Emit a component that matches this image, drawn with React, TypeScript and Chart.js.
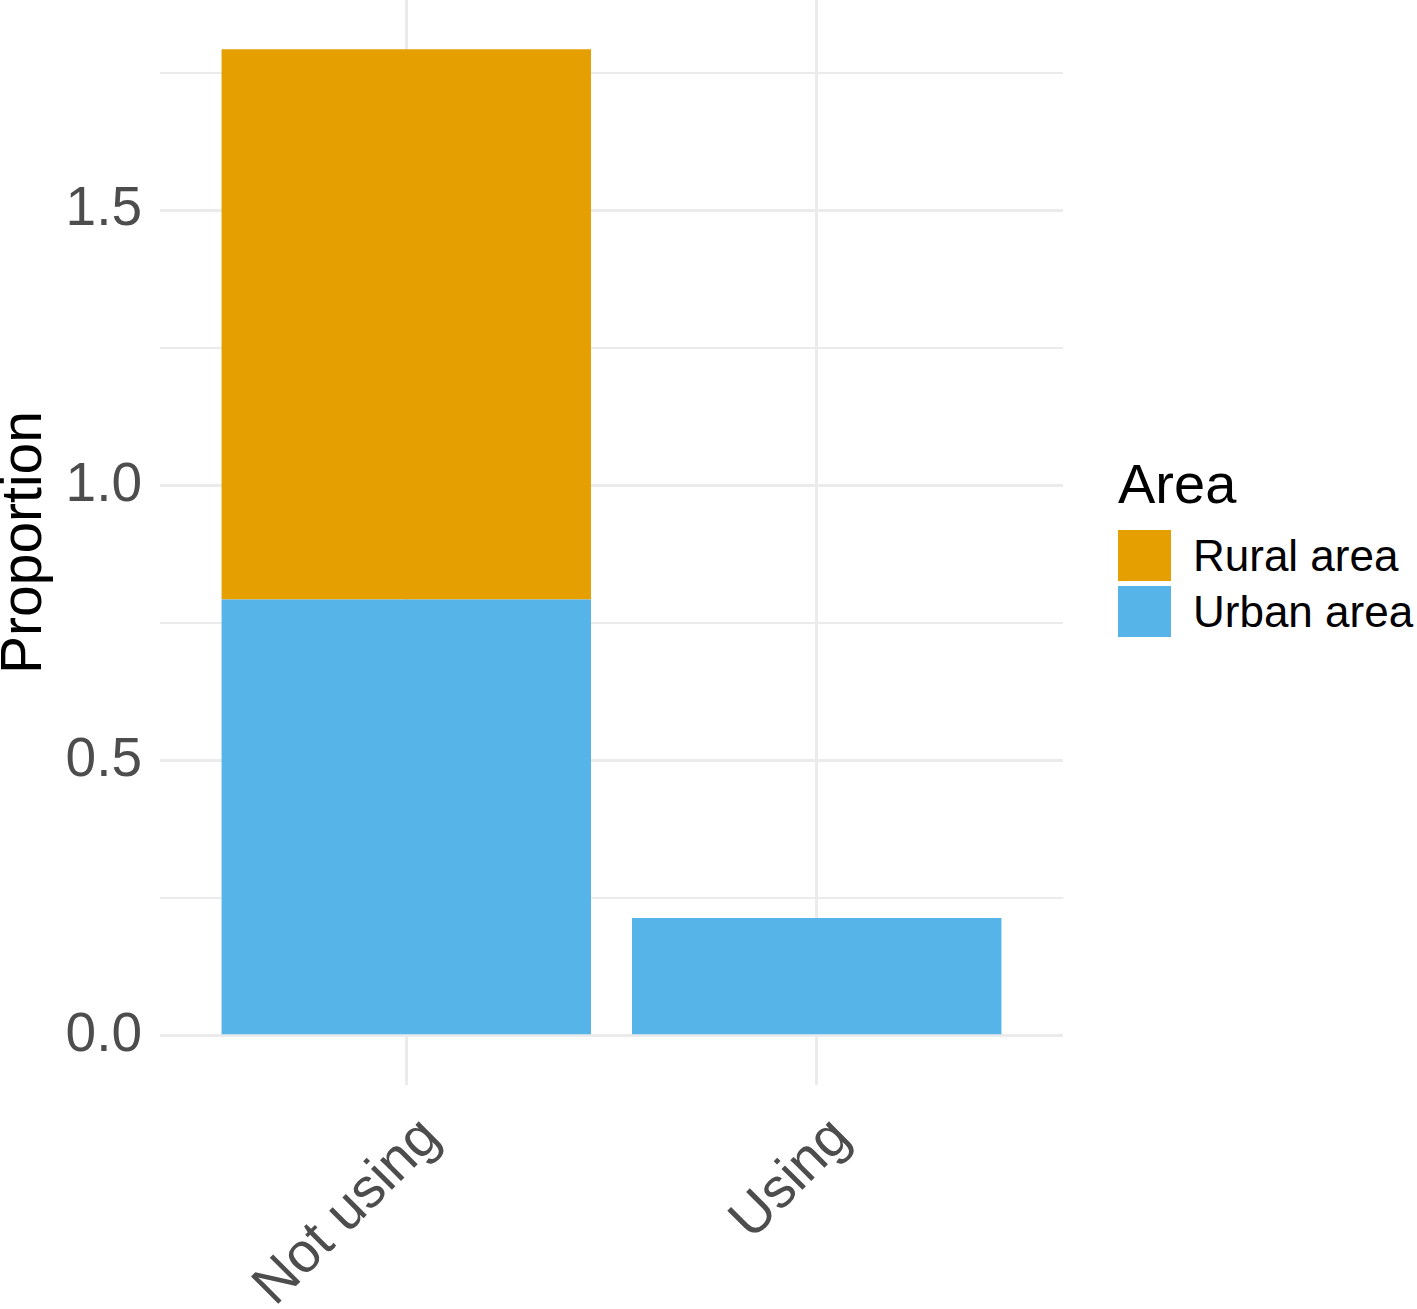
import React, { useEffect, useRef } from "react";
import { Chart, registerables } from "chart.js";

Chart.register(...registerables);

const categories = ["Not using", "Using"];
const seriesNames = ["Urban area", "Rural area"];
const urbanValues = [0.7925, 0.214];
const ruralValues = [1.0, 0];
const seriesColors = ["#56B4E9", "#E69F00"];
const yTickValues = [0, 0.25, 0.5, 0.75, 1, 1.25, 1.5, 1.75];
const legendTitle = "Area";
const yTitle = "Proportion";

const FONT = "'Liberation Sans', Arial, Helvetica, sans-serif";

const isMajor = (v: number) => Math.abs(v * 2 - Math.round(v * 2)) < 1e-6;

export default function App() {
  const canvasRef = useRef<HTMLCanvasElement | null>(null);

  useEffect(() => {
    const canvas = canvasRef.current;
    if (!canvas) return;
    const totals = categories.map((_, i) => urbanValues[i] + ruralValues[i]);
    const maxTotal = Math.max(...totals);
    const yMin = -0.05 * maxTotal;
    const yMax = maxTotal * 1.05;

    const seriesData = [urbanValues, ruralValues];
    const chart = new Chart(canvas, {
      type: "bar",
      data: {
        datasets: seriesNames.map((name, si) => ({
          label: name,
          data: categories.map((_, i) => ({ x: i + 1, y: seriesData[si][i] })),
          backgroundColor: seriesColors[si],
          borderWidth: 0,
          categoryPercentage: 1,
          barPercentage: 0.9,
        })),
      },
      options: {
        responsive: false,
        animation: false,
        layout: { padding: 0 },
        plugins: {
          legend: { display: false },
          tooltip: { enabled: false },
          title: { display: false },
        },
        scales: {
          x: {
            type: "linear",
            stacked: true,
            offset: false,
            min: 0.4,
            max: categories.length + 0.6,
            afterBuildTicks: (s: any) => {
              s.ticks = categories.map((_, i) => ({ value: i + 1 }));
            },
            afterFit: (s: any) => {
              s.height = 224;
              s.paddingLeft = 0;
              s.paddingRight = 0;
            },
            ticks: {
              autoSkip: false,
              minRotation: 45,
              maxRotation: 45,
              padding: 20,
              labelOffset: 25,
              color: "#4D4D4D",
              font: { size: 56, family: FONT },
              callback: (v: any) => categories[Math.round(Number(v)) - 1] ?? "",
            },
            grid: { color: "#EBEBEB", lineWidth: 3, drawTicks: false, offset: false },
            border: { display: false },
          },
          y: {
            type: "linear",
            stacked: true,
            min: yMin,
            max: yMax,
            afterBuildTicks: (s: any) => {
              s.ticks = yTickValues.map((v) => ({ value: v }));
            },
            afterFit: (s: any) => {
              s.width = 160;
              s.paddingTop = 0;
              s.paddingBottom = 0;
            },
            ticks: {
              padding: 18,
              color: "#4D4D4D",
              font: { size: 55, family: FONT },
              callback: (v: any) => (isMajor(Number(v)) ? Number(v).toFixed(1) : ""),
            },
            grid: {
              color: "#EBEBEB",
              lineWidth: (ctx: any) => (ctx.tick && isMajor(ctx.tick.value) ? 3 : 2),
              drawTicks: false,
            },
            border: { display: false },
            title: {
              display: true,
              text: yTitle,
              color: "#000000",
              font: { size: 57, family: FONT, lineHeight: 0.9 },
              padding: 0,
            },
          },
        },
      },
    } as any);
    return () => chart.destroy();
  }, []);

  const legendOrder = [1, 0];

  return (
    <div
      style={{
        position: "absolute",
        left: 0,
        top: 0,
        width: 1417,
        height: 1309,
        background: "#ffffff",
        overflow: "hidden",
      }}
    >
      <canvas
        ref={canvasRef}
        width={1063}
        height={1309}
        style={{ position: "absolute", left: 0, top: 0, width: 1063, height: 1309, display: "block" }}
      />
      <div
        style={{
          position: "absolute",
          left: 1118,
          top: 455,
          fontFamily: FONT,
          color: "#000",
        }}
      >
        <div style={{ fontSize: 56, lineHeight: "58px", height: 72 }}>{legendTitle}</div>
        {legendOrder.map((si) => (
          <div
            key={seriesNames[si]}
            style={{ display: "flex", alignItems: "center", height: 56 }}
          >
            <div
              style={{
                width: 53,
                height: 51,
                background: seriesColors[si],
                marginRight: 22,
              }}
            />
            <div style={{ fontSize: 44, lineHeight: "51px", whiteSpace: "nowrap" }}>
              {seriesNames[si]}
            </div>
          </div>
        ))}
      </div>
    </div>
  );
}
